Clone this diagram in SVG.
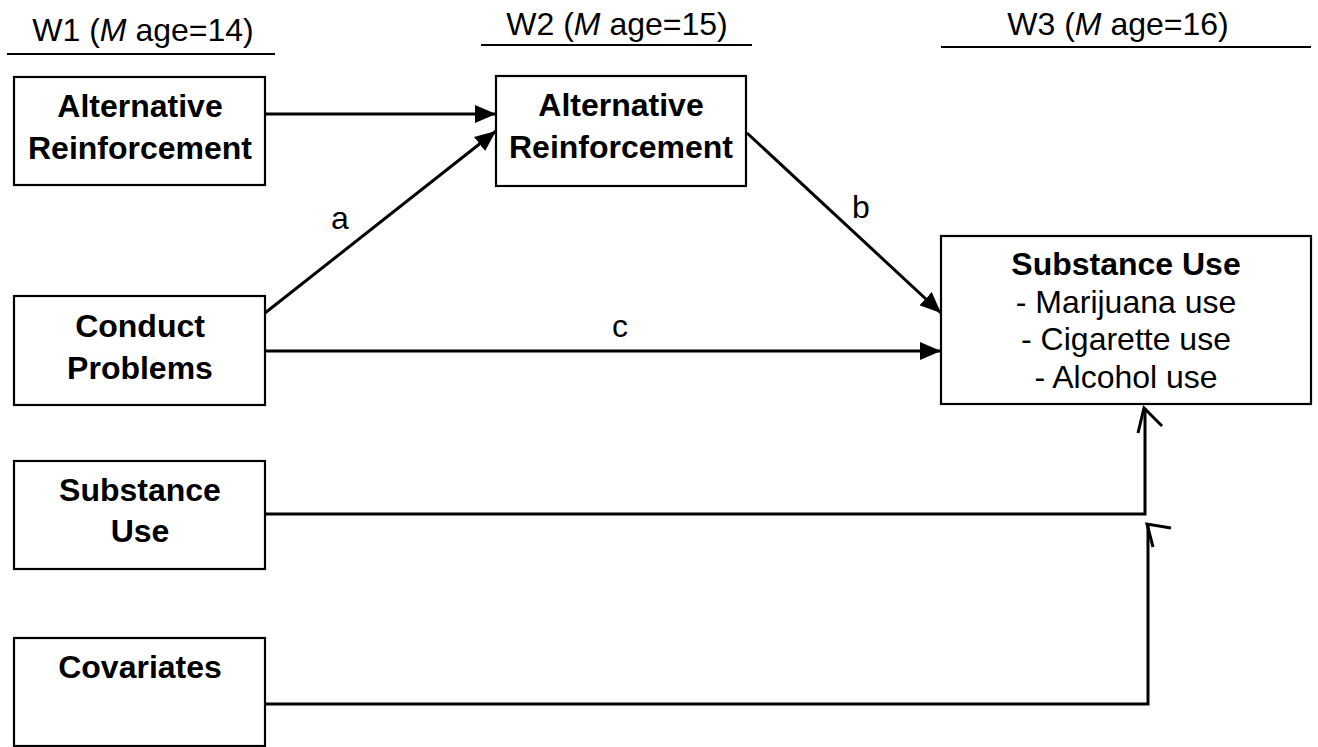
<svg xmlns="http://www.w3.org/2000/svg" width="1318" height="747" viewBox="0 0 1318 747">
<style>
.box{fill:#fff;stroke:#000;stroke-width:2.2}
.b{font-family:"Liberation Sans",Arial,sans-serif;font-weight:bold;font-size:32px;text-anchor:middle;fill:#000}
.t{font-family:"Liberation Sans",Arial,sans-serif;font-size:32px;text-anchor:middle;fill:#000}
.ln{fill:none;stroke:#000;stroke-width:3}
.hl{stroke:#000;stroke-width:2.2}
</style>
<defs>
<marker id="ah" markerWidth="21" markerHeight="18" refX="21" refY="9" orient="auto" markerUnits="userSpaceOnUse">
<path d="M0,0 L21,9 L0,18 Z" fill="#000"/>
</marker>
</defs>
<rect width="1318" height="747" fill="#fff"/>
<g id="headers">
<text class="t" x="143" y="41">W1 (<tspan font-style="italic">M</tspan> age=14)</text>
<line class="hl" x1="7" y1="54" x2="275" y2="54"/>
<text class="t" x="617" y="35">W2 (<tspan font-style="italic">M</tspan> age=15)</text>
<line class="hl" x1="481" y1="45" x2="752" y2="45"/>
<text class="t" x="1118" y="35">W3 (<tspan font-style="italic">M</tspan> age=16)</text>
<line class="hl" x1="941" y1="47" x2="1311" y2="47"/>
</g>
<g id="connectors">
<line class="ln" x1="265" y1="114" x2="496" y2="114" marker-end="url(#ah)"/>
<line class="ln" x1="265" y1="313" x2="496" y2="131" marker-end="url(#ah)"/>
<line class="ln" x1="747" y1="133" x2="941" y2="313" marker-end="url(#ah)"/>
<line class="ln" x1="265" y1="351" x2="941" y2="351" marker-end="url(#ah)"/>
<polyline class="ln" points="265,514 1145,514 1145,408"/>
<polyline class="ln" points="1138,433 1144,408 1162,426"/>
<polyline class="ln" points="265,704 1148,704 1148,525"/>
<polyline class="ln" points="1153,547 1147,524 1171,528"/>
<text class="t" x="340" y="229">a</text>
<text class="t" x="861" y="218">b</text>
<text class="t" x="620" y="337">c</text>
</g>
<g id="w1_ar">
<rect class="box" x="14" y="77" width="251" height="108"/>
<text class="b" x="140" y="117">Alternative</text>
<text class="b" x="140" y="159">Reinforcement</text>
</g>
<g id="w2_ar">
<rect class="box" x="496" y="76" width="250" height="110"/>
<text class="b" x="621" y="116">Alternative</text>
<text class="b" x="621" y="158">Reinforcement</text>
</g>
<g id="w1_cp">
<rect class="box" x="14" y="296" width="251" height="109"/>
<text class="b" x="140" y="337">Conduct</text>
<text class="b" x="140" y="379">Problems</text>
</g>
<g id="w1_su">
<rect class="box" x="14" y="461" width="251" height="108"/>
<text class="b" x="140" y="501">Substance</text>
<text class="b" x="140" y="542">Use</text>
</g>
<g id="w1_cov">
<rect class="box" x="14" y="638" width="251" height="108"/>
<text class="b" x="140" y="678">Covariates</text>
</g>
<g id="w3_su">
<rect class="box" x="941" y="236" width="370" height="168"/>
<text class="b" x="1126" y="275">Substance Use</text>
<text class="t" x="1126" y="313">- Marijuana use</text>
<text class="t" x="1126" y="350">- Cigarette use</text>
<text class="t" x="1126" y="388">- Alcohol use</text>
</g>
</svg>
